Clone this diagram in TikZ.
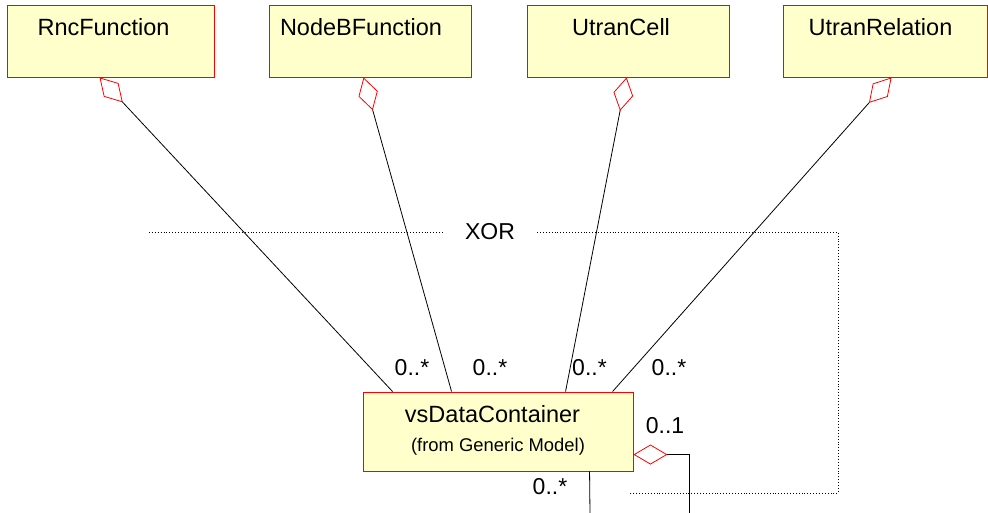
\documentclass[tikz,border=0pt]{standalone}
\usepackage{fontspec}
\setmainfont{Liberation Sans}
\usepackage{tikz}
\usetikzlibrary{arrows.meta, positioning, calc}
\definecolor{classfill}{RGB}{255, 255, 204}
\definecolor{classred}{RGB}{255, 0, 0}
\tikzset{
  classbox/.style={draw=classred, fill=classfill, line width=0.9pt, minimum width=203pt, minimum height=72pt, inner sep=0pt},
  classname/.style={font=\fontsize{23.5}{28}\selectfont, inner sep=0pt},
  fromname/.style={font=\fontsize{18.4}{22}\selectfont, inner sep=0pt},
  multlabel/.style={font=\fontsize{23}{28}\selectfont, inner sep=0pt},
  assoc/.style={line width=0.8pt, black},
  aggrarrow/.style={line width=0.8pt, black, -{Diamond[open, color=classred, length=34pt, width=20pt]}},
  xorline/.style={line width=0.9pt, dotted}
}

\begin{document}
\begin{tikzpicture}[x=1pt, y=-1pt]
    \useasboundingbox (0,0) rectangle (988,513);

    % classes on top
    \node (rnc) [classbox, minimum width=207pt] at (110.5,41) {};
    \node (nodeb) [classbox, minimum width=202pt] at (370,41) {};
    \node (ucell) [classbox, minimum width=202pt] at (628,41) {};
    \node (urel) [classbox, minimum width=204pt] at (885,41) {};
    \node (rnctxt) [classname] at (103.5,27) {RncFunction};
    \node (nodebtxt) [classname] at (361,27) {NodeBFunction};
    \node (ucelltxt) [classname] at (621,27) {UtranCell};
    \node (ureltxt) [classname] at (880.5,27) {UtranRelation};

    % container
    \node (vsdc) [classbox, minimum width=270pt, minimum height=79pt] at (498,431.5) {};
    \node (vsdctxt) [classname] at (492.5,414) {vsDataContainer};
    \node (vsdcfrom) [fromname] at (498,447) {(from Generic Model)};

    % aggregations
    \draw[aggrarrow] ($(vsdc.north west)+(30,0)$) -- ($(rnc.south west)+(93,0)$);
    \draw[aggrarrow] ($(vsdc.north west)+(89,0)$) -- ($(nodeb.south west)+(95,0)$);
    \draw[aggrarrow] ($(vsdc.north west)+(203,0)$) -- ($(ucell.south west)+(100,0)$);
    \draw[aggrarrow] ($(vsdc.north west)+(250,0)$) -- ($(urel.south west)+(109,0)$);

    \node (m1) [multlabel] at (412,368) {0..*};
    \node (m2) [multlabel] at (490,368) {0..*};
    \node (m3) [multlabel] at (589.5,368) {0..*};
    \node (m4) [multlabel] at (669,368) {0..*};

    % self aggregation
    \coordinate (selfend) at (689,514);
    \coordinate (childend) at (590,514);
    \draw[aggrarrow] (selfend) |- ($(vsdc.north east)+(0,63)$);
    \draw[assoc] ($(vsdc.south west)+(227,0)$) -- (childend);
    \node (m5) [multlabel] at (665,426) {0..1};
    \node (m6) [multlabel] at (550,487) {0..*};

    % xor constraint
    \node (xor) [multlabel, inner xsep=22pt] at (490,232) {XOR};
    \coordinate (xorleft) at (149,232);
    \coordinate (xorcorner) at (838,232);
    \coordinate (xorend) at (630,493);
    \draw[xorline] (xorleft) -- (xor.west);
    \draw[xorline] (xor.east) -- (xorcorner) |- (xorend);
\end{tikzpicture}
\end{document}
